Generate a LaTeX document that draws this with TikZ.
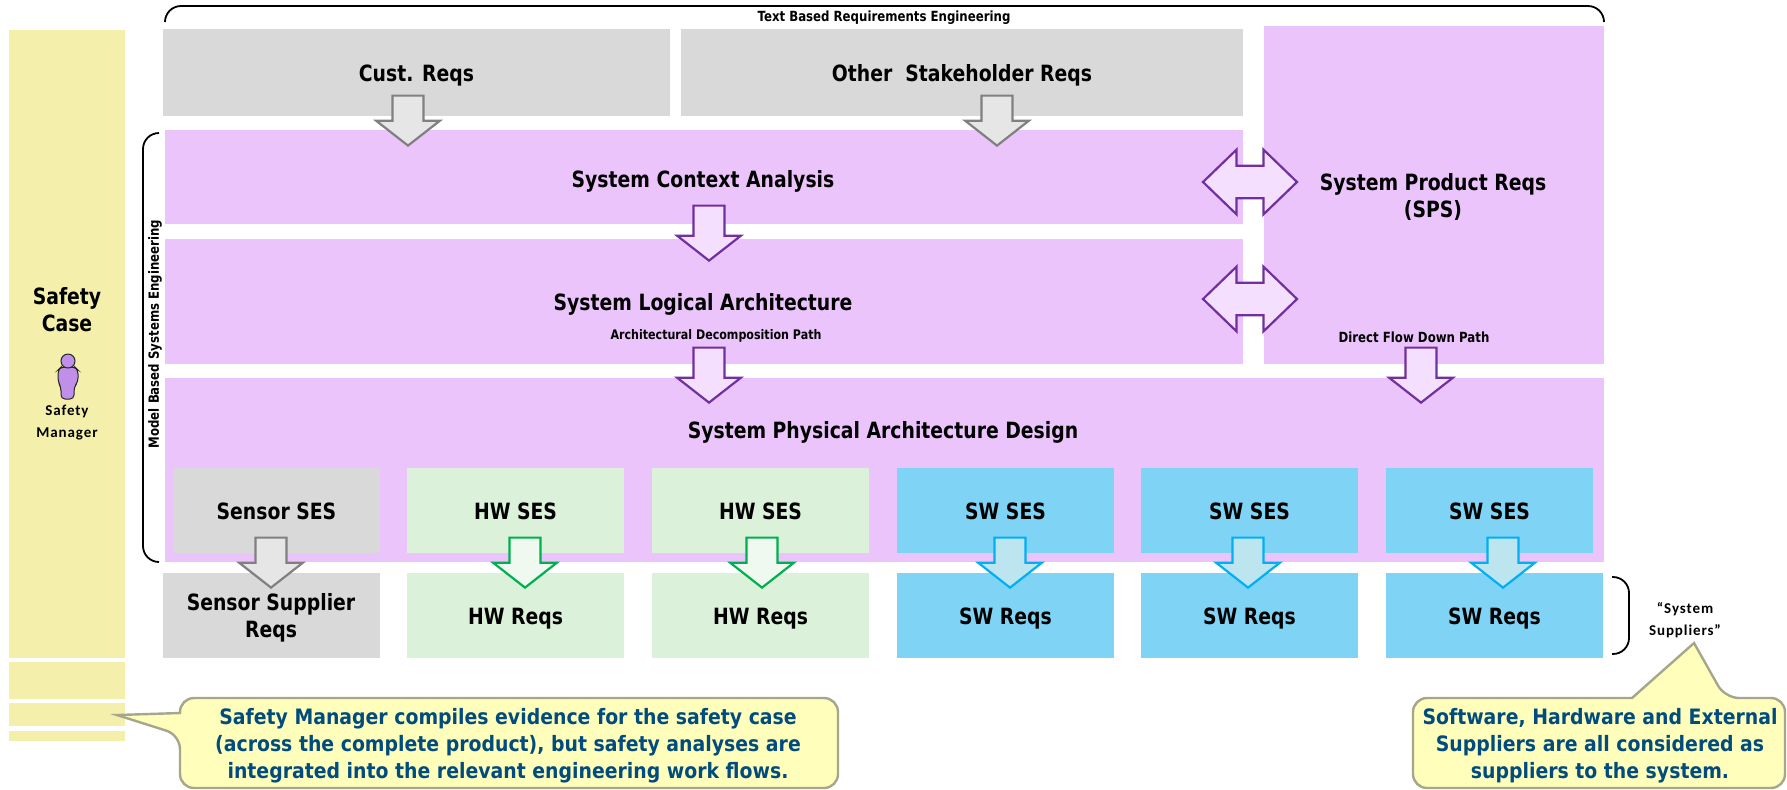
\documentclass[tikz,border=0pt]{standalone}
\usepackage{xcolor}
\usepackage{fontspec}
\setmainfont[FakeStretch=0.84]{DejaVu Sans}
\newfontfamily\calloutfont[FakeStretch=0.89]{DejaVu Sans}
\newfontfamily\rolefont[LetterSpace=6]{Carlito}
\usepackage{tikz}
\usetikzlibrary{shapes,shapes.arrows,arrows.meta,positioning,calc}
\definecolor{reqgray}{HTML}{D9D9D9}
\definecolor{syspurple}{HTML}{EBC4FC}
\definecolor{hwgreen}{HTML}{DBF1D9}
\definecolor{swblue}{HTML}{7FD3F5}
\definecolor{casey}{HTML}{F4F0AC}
\definecolor{calloutfill}{HTML}{FFFFBB}
\definecolor{calloutline}{HTML}{A6A68C}
\definecolor{calloutink}{HTML}{004C7F}
\definecolor{arrowpurple}{HTML}{7030A0}
\definecolor{arrowpurplefill}{HTML}{F4E0FE}
\definecolor{arrowgray}{HTML}{808080}
\definecolor{arrowgrayfill}{HTML}{E6E6E6}
\definecolor{arrowgreen}{HTML}{00B050}
\definecolor{arrowgreenfill}{HTML}{F0F9EF}
\definecolor{arrowblue}{HTML}{00B0F0}
\definecolor{arrowbluefill}{HTML}{BCE5F0}
\definecolor{personfill}{HTML}{C090E8}
\tikzset{
    boxbase/.style={anchor=north west, inner sep=0pt, outer sep=0pt, align=center, text height=11pt, text depth=1.6pt, font=\fontsize{11.2}{13.5}\selectfont\bfseries},
    reqbox/.style={boxbase, fill=reqgray},
    sysbox/.style={boxbase, fill=syspurple},
    hwbox/.style={boxbase, fill=hwgreen, minimum width=108.5pt, minimum height=42.5pt},
    swbox/.style={boxbase, fill=swblue, minimum width=108.5pt, minimum height=42.5pt},
    casebox/.style={anchor=north west, inner sep=0pt, outer sep=0pt, fill=casey, minimum width=58pt},
    boxlabel/.style={inner sep=0pt, align=center, font=\fontsize{11.2}{13.5}\selectfont\bfseries},
    smalllabel/.style={inner sep=0pt, font=\fontsize{7}{8}\selectfont\bfseries},
    rolelabel/.style={inner sep=0pt, align=center, font=\fontsize{7.5}{11}\selectfont\rolefont\bfseries},
    flowarrow/.style={single arrow, anchor=tip, rotate=-90, line width=1.1pt, inner xsep=0pt, inner ysep=7.2pt,
        minimum height=25pt, minimum width=31pt, single arrow head extend=8.2pt, single arrow tip angle=104},
    grayflow/.style={flowarrow, draw=arrowgray, fill=arrowgrayfill},
    purpleflow/.style={flowarrow, draw=arrowpurple, fill=arrowpurplefill, minimum height=27.5pt},
    greenflow/.style={flowarrow, draw=arrowgreen, fill=arrowgreenfill},
    blueflow/.style={flowarrow, draw=arrowblue, fill=arrowbluefill},
    swaparrow/.style={double arrow, line width=1.1pt, inner xsep=0pt, inner ysep=7.6pt, draw=arrowpurple, fill=arrowpurplefill,
        minimum height=47pt, minimum width=31.5pt, double arrow head extend=8pt, double arrow tip angle=88},
    bracketline/.style={draw=black, line width=0.9pt, rounded corners=8pt},
    personshape/.style={fill=personfill, draw=black!85, line width=0.5pt},
    calloutshape/.style={draw=calloutline, fill=calloutfill, line width=1.2pt},
    callouttext/.style={inner sep=0pt, align=center, text=calloutink, font=\fontsize{10.6}{13.4}\selectfont\calloutfont\bfseries},
}
\begin{document}
\begin{tikzpicture}[x=0.5pt, y=-0.5pt]
    \useasboundingbox (0,0) rectangle (1787,789);
    % Safety case column
    \node [casebox, minimum height=314pt] (CaseA) at (9,30) {};
    \node [casebox, minimum height=18.5pt] (CaseB) at (9,662) {};
    \node [casebox, minimum height=11.5pt] (CaseC) at (9,703) {};
    \node [casebox, minimum height=5pt] (CaseD) at (9,731) {};
    \node [boxlabel] (CaseT) at (67,310) {Safety\\Case};
    \node [rolelabel] (Manager) at (67,423) {Safety\\Manager};
    % Safety manager figure
    \draw [personshape, rounded corners=2pt]
        (58,370) -- (61,367) -- (75,367) -- (78,370) -- (78,382) -- (74,387) -- (74,399) -- (61,399) -- (61,387) -- (58,382) -- cycle;
    \draw [personshape] (68,361) circle (7);
    % Text based requirements
    \draw [bracketline] (165,22) -- (165,6) -- (1604,6) -- (1604,22);
    \node [smalllabel] (TextT) at (884,18) {Text Based Requirements Engineering};
    \node [reqbox, minimum width=253.5pt, minimum height=43.5pt] (Cust) at (163,29) {Cust. Reqs};
    \node [reqbox, minimum width=281pt, minimum height=43.5pt] (Other) at (681,29) {Other\ \ Stakeholder Reqs};
    % Model based systems engineering
    \draw [bracketline] (159,133) -- (143,133) -- (143,562) -- (159,562);
    \node [smalllabel, rotate=90] (ModelT) at (155,334) {Model Based Systems Engineering};
    \node [sysbox, minimum width=539pt, minimum height=47pt] (Context) at (165,130) {};
    \node [boxlabel] (ContextT) at (703,181) {System Context Analysis};
    \node [sysbox, minimum width=539pt, minimum height=62.5pt] (Logical) at (165,239) {};
    \node [boxlabel] (LogicalT) at (703,304) {System Logical Architecture};
    \node [sysbox, minimum width=170pt, minimum height=169pt] (Product) at (1264,26) {};
    \node [boxlabel] (ProductT) at (1433,197) {System Product Reqs\\(SPS)};
    \node [sysbox, minimum width=719.5pt, minimum height=92pt] (Physical) at (165,378) {};
    \node [boxlabel] (PhysicalT) at (883,432) {System Physical Architecture Design};
    \node [smalllabel, font=\fontsize{6.6}{8}\selectfont\bfseries] (DecompT) at (716,336) {Architectural Decomposition Path};
    \node [smalllabel] (DirectT) at (1414,337) {Direct Flow Down Path};
    % Subsystem specs
    \node [reqbox, minimum width=103.5pt, minimum height=42.5pt] (SensorS) at (173,468) {Sensor SES};
    \node [hwbox] (HwA) at (407,468) {HW SES};
    \node [hwbox] (HwB) at (652,468) {HW SES};
    \node [swbox] (SwA) at (897,468) {SW SES};
    \node [swbox] (SwB) at (1141,468) {SW SES};
    \node [swbox, minimum width=103.5pt] (SwC) at (1386,468) {SW SES};
    % Supplier reqs
    \node [reqbox, minimum width=108.5pt, minimum height=42.5pt] (SensorR) at (163,573) {};
    \node [boxlabel] (SensorRT) at (271,618) {Sensor Supplier\\Reqs};
    \node [hwbox, below=10pt of HwA] (HwRA) {HW Reqs};
    \node [hwbox, below=10pt of HwB] (HwRB) {HW Reqs};
    \node [swbox, below=10pt of SwA] (SwRA) {SW Reqs};
    \node [swbox, below=10pt of SwB] (SwRB) {SW Reqs};
    \node [swbox] (SwRC) at (1386,573) {SW Reqs};
    \draw [bracketline] (1612,577) -- (1629,577) -- (1629,654) -- (1612,654);
    \node [rolelabel] (SuppliersT) at (1685,620) {“System\\Suppliers”};
    % Flow arrows
    \node [grayflow] (ArrA) at (408,147) {};
    \node [grayflow] (ArrB) at (997,147) {};
    \node [purpleflow] (ArrC) at (709,262) {};
    \node [purpleflow] (ArrD) at (709,404) {};
    \node [purpleflow] (ArrE) at (1421,404) {};
    \node [swaparrow] (SwapA) at (1250,182) {};
    \node [swaparrow] (SwapB) at (1250,299) {};
    \node [grayflow] (ArrF) at (271,589) {};
    \node [greenflow] (ArrG) at (525,589) {};
    \node [greenflow] (ArrH) at (762,589) {};
    \node [blueflow] (ArrI) at (1010,589) {};
    \node [blueflow] (ArrJ) at (1248,589) {};
    \node [blueflow] (ArrK) at (1503,589) {};
    % Callouts
    \draw [calloutshape] (180,713) [rounded corners=7pt] -- (180,698) -- (838,698) -- (838,788) -- (180,788) -- (180,735) [sharp corners] -- (117,715) -- cycle;
    \node [callouttext] (LeftT) at (508,746) {Safety Manager compiles evidence for the safety case\\(across the complete product), but safety analyses are\\integrated into the relevant engineering work flows.};
    \draw [calloutshape] (1632,698) [rounded corners=7pt] -- (1413,698) -- (1413,788) -- (1785,788) -- (1785,698) -- (1725,698) [sharp corners] -- (1694,643) -- cycle;
    \node [callouttext] (RightT) at (1600,746) {Software, Hardware and External\\Suppliers are all considered as\\suppliers to the system.};
\end{tikzpicture}
\end{document}
